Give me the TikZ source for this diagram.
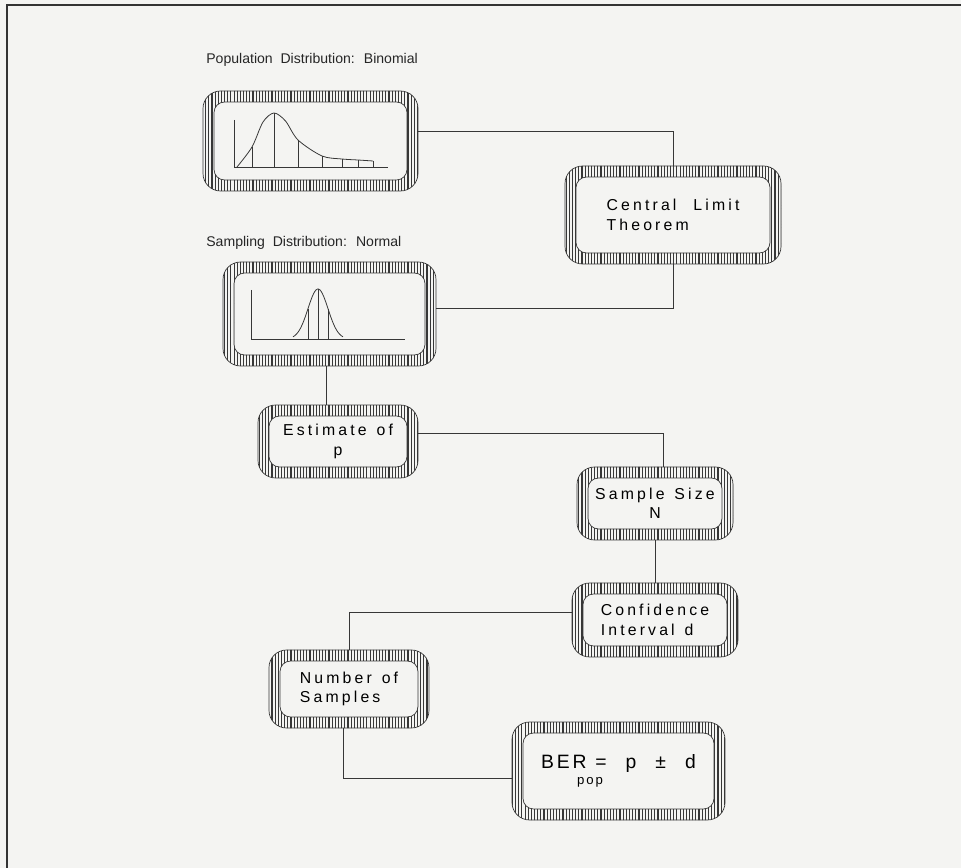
\documentclass[tikz,border=0pt]{standalone}
\usepackage{fontspec}
\setmainfont{Liberation Sans}
\newfontfamily\boxfont[LetterSpace=20, WordSpace=1.3]{Liberation Sans}
\newfontfamily\berfont[LetterSpace=15, WordSpace=2.3]{Liberation Sans}
\newfontfamily\titlefont[WordSpace=2]{Liberation Sans}
\definecolor{paper}{RGB}{244, 244, 242}
\definecolor{ink}{RGB}{55, 55, 55}
\usetikzlibrary{patterns.meta, calc}

\begin{document}
\begin{tikzpicture}[
                hatchbox/.style={rectangle, rounded corners=10pt, draw=ink, fill=paper, inner sep=0pt, align=center, font=\boxfont\fontsize{9}{11}\selectfont,
                    path picture={
                        \fill[pattern={Lines[angle=90, distance=1.8pt, line width=0.65pt]}, pattern color=ink, even odd rule]
                            (path picture bounding box.south west) rectangle (path picture bounding box.north east)
                            [rounded corners=6pt] ([shift={(0.22,0.22)}]path picture bounding box.south west) rectangle ([shift={(-0.22,-0.22)}]path picture bounding box.north east);
                        \draw[ink, rounded corners=6pt] ([shift={(0.22,0.22)}]path picture bounding box.south west) rectangle ([shift={(-0.22,-0.22)}]path picture bounding box.north east);
                    }},
                title/.style={anchor=west, inner sep=0pt, font=\titlefont\fontsize{8}{10}\selectfont, text=black!85},
                link/.style={draw=ink, line width=0.5pt},
                curve/.style={draw=ink, line width=0.45pt}
            ]%
            % Hoja
            \fill[paper] (0,0) rectangle (19.22,-17.36);
            \useasboundingbox (0,0) rectangle (19.22,-17.36);
            \draw[black!80, line width=1pt] (19.22,-0.10) -- (0.14,-0.10) -- (0.14,-17.36);
            %
            % Distribuciones
            \node[title] (poptitle) at (4.12,-1.20) {Population Distribution: Binomial};
            \node[hatchbox, minimum width=4.30cm, minimum height=2.00cm] (popdist) at (6.21,-2.82) {};
            \node[title] (samptitle) at (4.12,-4.86) {Sampling Distribution: Normal};
            \node[hatchbox, minimum width=4.26cm, minimum height=2.08cm] (sampdist) at (6.59,-6.28) {};
            \node[hatchbox, minimum width=4.32cm, minimum height=1.96cm, align=left] (clt) at (13.46,-4.30) {Central\hspace{0.45em} Limit\\Theorem};
            %
            % Estimacion
            \node[hatchbox, minimum width=3.20cm, minimum height=1.46cm] (estimate) at (6.76,-8.83) {Estimate of\\p};
            \node[hatchbox, minimum width=3.12cm, minimum height=1.46cm] (samplesize) at (13.10,-10.07) {Sample Size\\N};
            \node[hatchbox, minimum width=3.32cm, minimum height=1.48cm, align=left] (confint) at (13.10,-12.40) {Confidence\\Interval d};
            \node[hatchbox, minimum width=3.20cm, minimum height=1.56cm, align=left] (numsamples) at (6.98,-13.78) {Number of\\Samples};
            \node[hatchbox, minimum width=4.26cm, minimum height=1.96cm, font=\berfont\fontsize{11}{13}\selectfont] (ber) at (12.37,-15.42) {BER\rlap{\hspace{-0.5em}\raisebox{-0.8em}{\fontsize{7.5}{9}\selectfont pop}}\hspace{0.45em}= p ± d};
            %
            % Curvas
            \begin{scope}[shift={(popdist.center)}]
                \draw[curve] (-1.53,0.42) -- (-1.53,-0.52) -- (1.55,-0.52);
                \draw[curve] plot[smooth] coordinates {(-1.47,-0.52) (-1.17,-0.12) (-0.95,0.38) (-0.73,0.56) (-0.50,0.40) (-0.25,0.02) (0.23,-0.30) (0.63,-0.36) (0.95,-0.38) (1.25,-0.40)};
                \foreach \x/\y in {-1.17/-0.12, -0.73/0.56, -0.25/0.02, 0.23/-0.30, 0.63/-0.36, 0.95/-0.38, 1.25/-0.40}
                    \draw[curve] (\x,-0.52) -- (\x,\y);
            \end{scope}
            \begin{scope}[shift={(sampdist.center)}]
                \draw[curve] (-1.57,0.48) -- (-1.57,-0.50) -- (1.51,-0.50);
                \draw[curve, domain=-0.5:0.5, samples=40, smooth] plot ({-0.23+\x},{-0.50+1.0*exp(-(\x/0.2)^2/2)});
                \foreach \x in {-0.2, 0, 0.2}
                    \draw[curve] ({-0.23+\x},-0.50) -- ({-0.23+\x},{-0.50+1.0*exp(-(\x/0.2)^2/2)});
            \end{scope}
            %
            % Conexiones
            \draw[link] ([yshift=0.2cm]popdist.east) -| (clt.north);
            \draw[link] (clt.south) |- ([yshift=0.12cm]sampdist.east);
            \draw[link] ([xshift=-0.07cm]sampdist.south) -- ([xshift=-0.07cm]sampdist.south |- estimate.north);
            \draw[link] ([yshift=0.17cm]estimate.east) -| ([xshift=0.16cm]samplesize.north);
            \draw[link] (samplesize.south) -- (confint.north);
            \draw[link] ([yshift=0.16cm]confint.west) -| (numsamples.north);
            \draw[link] ([xshift=-0.12cm]numsamples.south) |- ([yshift=-0.14cm]ber.west);
        \end{tikzpicture}
\end{document}
